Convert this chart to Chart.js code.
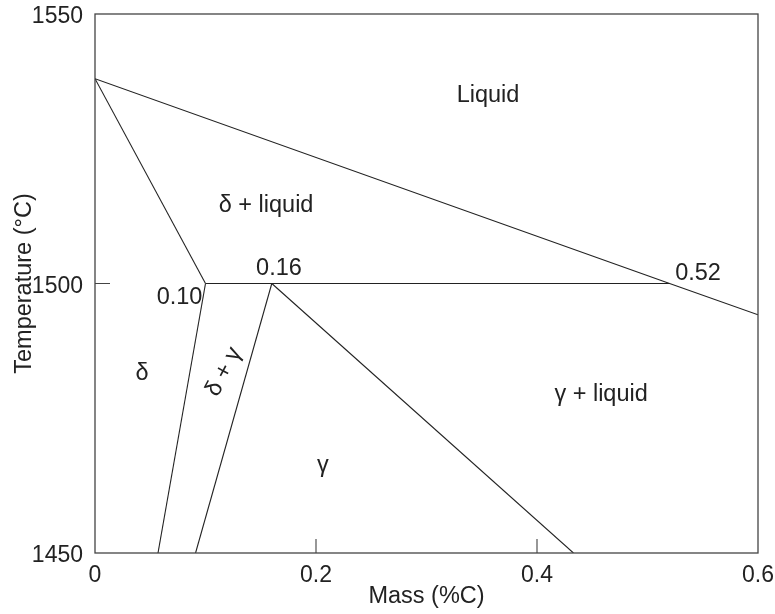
<!DOCTYPE html>
<html>
<head>
<meta charset="utf-8">
<title>Fe-C peritectic region</title>
<script src="https://cdn.jsdelivr.net/npm/chart.js@4.4.1/dist/chart.umd.min.js"></script>
<style>
  html, body { margin: 0; padding: 0; background: #fff; }
  #wrap { width: 775px; height: 614px; }
</style>
</head>
<body>
<div id="wrap"><canvas id="phase" width="775" height="614"></canvas></div>
<script>
// phase boundaries, mass %C vs temperature (°C)
const liquidusC = [0, 0.52, 0.6];
const liquidusT = [1538, 1500, 1494.2];
const deltaLiqC = [0, 0.10];
const deltaLiqT = [1538, 1500];
const peritecticC = [0.10, 0.52];
const peritecticT = [1500, 1500];
const deltaSolvusC = [0.10, 0.057];
const deltaSolvusT = [1500, 1450];
const gammaStartC = [0.16, 0.091];
const gammaStartT = [1500, 1450];
const solidusC = [0.16, 0.433];
const solidusT = [1500, 1450];

const xTicks = [0, 0.2, 0.4, 0.6];
const yTicks = [1450, 1500, 1550];

// region names and point labels, placed in data units
const labelText = ['Liquid', 'δ + liquid', 'γ + liquid', 'γ', '0.16', '0.10', 'δ', '0.52', 'δ + γ'];
const labelC = [0.3557, 0.1548, 0.458, 0.2063, 0.1665, 0.0765, 0.0425, 0.5457, 0.1167];
const labelT = [1533.7, 1513.3, 1478.2, 1465, 1501.6, 1496.2, 1482.1, 1500.6, 1483.6];
const labelAngle = [0, 0, 0, 0, 0, 0, 0, 0, -62];

const FONT = '"Liberation Sans", Arial, Helvetica, sans-serif';
const INK = '#222';

function pts(xs, ys) {
  return xs.map((x, i) => ({ x: x, y: ys[i] }));
}

function curve(xs, ys) {
  return {
    data: pts(xs, ys),
    showLine: true,
    borderColor: INK,
    borderWidth: 1.1,
    pointRadius: 0,
    fill: false,
    tension: 0
  };
}

const frame = {
  id: 'frame',
  afterDraw(chart) {
    const ctx = chart.ctx;
    const a = chart.chartArea;
    const sx = chart.scales.x;
    const sy = chart.scales.y;
    ctx.save();
    ctx.strokeStyle = '#444';
    ctx.lineWidth = 1.3;
    ctx.strokeRect(a.left, a.top, a.right - a.left, a.bottom - a.top);
    // inward ticks on the inner tick values
    ctx.lineWidth = 1.1;
    ctx.beginPath();
    xTicks.slice(1, -1).forEach(v => {
      const px = sx.getPixelForValue(v);
      ctx.moveTo(px, a.bottom);
      ctx.lineTo(px, a.bottom - 14);
    });
    yTicks.slice(1, -1).forEach(v => {
      const py = sy.getPixelForValue(v);
      ctx.moveTo(a.left, py);
      ctx.lineTo(a.left + 15, py);
    });
    ctx.stroke();

    ctx.fillStyle = INK;
    ctx.font = '23.5px ' + FONT;
    ctx.textAlign = 'center';
    labelText.forEach((t, i) => {
      const px = sx.getPixelForValue(labelC[i]);
      const py = sy.getPixelForValue(labelT[i]);
      ctx.save();
      ctx.translate(px, py);
      if (labelAngle[i]) {
        ctx.rotate(labelAngle[i] * Math.PI / 180);
        ctx.textBaseline = 'middle';
      } else {
        ctx.textBaseline = 'alphabetic';
      }
      ctx.fillText(t, 0, 0);
      ctx.restore();
    });
    ctx.restore();
  }
};

new Chart(document.getElementById('phase'), {
  type: 'scatter',
  data: {
    datasets: [
      curve(liquidusC, liquidusT),
      curve(deltaLiqC, deltaLiqT),
      curve(peritecticC, peritecticT),
      curve(deltaSolvusC, deltaSolvusT),
      curve(gammaStartC, gammaStartT),
      curve(solidusC, solidusT)
    ]
  },
  options: {
    responsive: false,
    animation: false,
    layout: { padding: { top: 14, right: 17, left: 0, bottom: 0 } },
    plugins: {
      legend: { display: false },
      tooltip: { enabled: false }
    },
    scales: {
      x: {
        type: 'linear',
        min: 0,
        max: 0.6,
        afterBuildTicks(scale) {
          scale.ticks = xTicks.map(v => ({ value: v }));
        },
        afterFit(scale) {
          scale.height = 61;
          scale.paddingLeft = 0;
          scale.paddingRight = 0;
        },
        grid: { display: false, drawTicks: false },
        border: { display: false },
        ticks: {
          color: INK,
          padding: 9,
          font: { family: FONT, size: 23 },
          maxRotation: 0,
          callback: v => String(v)
        },
        title: {
          display: true,
          text: 'Mass (%C)',
          color: INK,
          font: { family: FONT, size: 23.5 },
          padding: { top: 0, bottom: 3 }
        }
      },
      y: {
        type: 'linear',
        min: 1450,
        max: 1550,
        afterBuildTicks(scale) {
          scale.ticks = yTicks.map(v => ({ value: v }));
        },
        afterFit(scale) {
          scale.width = 95;
          scale.paddingTop = 0;
          scale.paddingBottom = 0;
        },
        grid: { display: false, drawTicks: false },
        border: { display: false },
        ticks: {
          color: INK,
          padding: 12,
          labelOffset: 3,
          font: { family: FONT, size: 23 },
          callback: v => String(v)
        },
        title: {
          display: true,
          text: 'Temperature (°C)',
          color: INK,
          font: { family: FONT, size: 23.5 },
          padding: { top: 10, bottom: 0 }
        }
      }
    }
  },
  plugins: [frame]
});
</script>
</body>
</html>
